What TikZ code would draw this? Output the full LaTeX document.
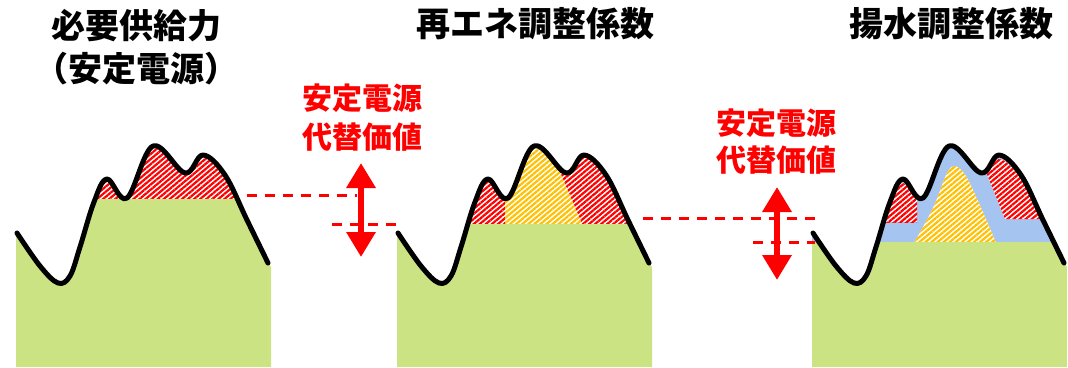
\documentclass[tikz,border=0pt]{standalone}
\usepackage{fontspec}
\newfontfamily\jp{Noto Sans CJK JP}
\usetikzlibrary{patterns.meta,arrows.meta}
\definecolor{grn}{RGB}{204,227,131}
\definecolor{blu}{RGB}{166,196,240}
\definecolor{yel}{RGB}{255,192,0}
\definecolor{rd}{RGB}{255,0,0}
\begin{document}
\begin{tikzpicture}[x=1pt,y=-1pt,
  curveline/.style={line width=5pt,line cap=round,line join=round,black},
  hatchred/.style={pattern={Lines[angle=40,distance=3.9pt,line width=2.2pt]},pattern color=rd},
  hatchyel/.style={pattern={Lines[angle=40,distance=3.9pt,line width=2.2pt]},pattern color=yel},
  reddash/.style={rd,line width=3pt,dash pattern=on 10pt off 8pt},
  bigarrow/.style={rd,line width=6.5pt,{Triangle[length=25pt,width=28pt]}-{Triangle[length=25pt,width=28pt]}},
  title/.style={font=\jp\bfseries\fontsize{34}{40}\selectfont,anchor=base,inner sep=0pt},
  redtxt/.style={font=\jp\bfseries\fontsize{30}{36}\selectfont,text=rd,anchor=base,inner sep=0pt}]
\useasboundingbox (0,0) rectangle (1068,367);
\def\curvepath{plot[smooth,tension=0.6] coordinates{(17,233) (40,266) (58,283) (70,276) (80,247) (94,202) (107,179) (127,198) (153,146) (185,173) (203,155) (225,175) (247,220) (268,263)}}
\def\under{\curvepath -- (271,267) -- (271,367) -- (16,367) -- (16,236) -- cycle}

% ---------- panel 1 ----------
\begin{scope}
  \begin{scope}
    \clip (0,0) rectangle (300,199);
    \fill[hatchred] \under;
  \end{scope}
  \begin{scope}
    \clip (0,199) rectangle (300,367);
    \fill[grn] \under;
  \end{scope}
  \draw[curveline] \curvepath;
\end{scope}

% ---------- panel 2 ----------
\begin{scope}[shift={(381,0)}]
  \begin{scope}
    \clip (0,0) rectangle (300,224);
    \fill[hatchred] \under;
    \clip (124,230) -- (124,100) -- (148,100) -- (201,224) -- cycle;
    \fill[white] \under;
    \fill[hatchyel] \under;
  \end{scope}
  \begin{scope}
    \clip (0,224) rectangle (300,367);
    \fill[grn] \under;
  \end{scope}
  \draw[curveline] \curvepath;
\end{scope}

% ---------- panel 3 ----------
\begin{scope}[shift={(796,0)}]
  \begin{scope}
    \clip (0,0) rectangle (300,242);
    \fill[blu] \under;
  \end{scope}
  \begin{scope}
    \clip (84,0) rectangle (121,222);
    \clip[shift={(0,4)}] \under;
    \fill[white] (84,0) rectangle (121,222);
    \fill[hatchred] (84,0) rectangle (121,222);
  \end{scope}
  \begin{scope}
    \clip (161,100) -- (209,219) -- (280,219) -- (280,100) -- cycle;
    \clip[shift={(0,4)}] \under;
    \fill[white] (150,100) rectangle (280,219);
    \fill[hatchred] (150,100) rectangle (280,219);
  \end{scope}
  \fill[white] plot[smooth,tension=0.5] coordinates{(118,243) (137,208) (151,173) (159,166) (170,176) (186,210) (201,245)} -- cycle;
  \fill[hatchyel] plot[smooth,tension=0.5] coordinates{(118,243) (137,208) (151,173) (159,166) (170,176) (186,210) (201,245)} -- cycle;
  \begin{scope}
    \clip (0,242) rectangle (300,367);
    \fill[grn] \under;
  \end{scope}
  \draw[curveline] \curvepath;
\end{scope}

% ---------- dashed levels ----------
\coordinate (d1a) at (247,195); \coordinate (d1b) at (357,195);
\coordinate (d2a) at (332,224); \coordinate (d2b) at (398,224);
\coordinate (d3a) at (643,218); \coordinate (d3b) at (815,218);
\coordinate (d4a) at (753,242); \coordinate (d4b) at (815,242);
\draw[reddash] (d1a) -- (d1b);
\draw[reddash] (d2a) -- (d2b);
\draw[reddash] (d3a) -- (d3b);
\draw[reddash] (d4a) -- (d4b);

% ---------- arrows ----------
\coordinate (a1t) at (361,163); \coordinate (a1b) at (361,257);
\coordinate (a2t) at (777,187); \coordinate (a2b) at (777,280);
\draw[bigarrow] (a1t) -- (a1b);
\draw[bigarrow] (a2t) -- (a2b);

% ---------- texts ----------
\node[title] (t1a) at (136,38) {必要供給力};
\node[title] (t1b) at (136,81) {（安定電源）};
\node[title] (t2) at (535,36) {再エネ調整係数};
\node[title] (t3) at (951,36) {揚水調整係数};
\node[redtxt] (r1a) at (362,109.5) {安定電源};
\node[redtxt] (r1b) at (362,148.5) {代替価値};
\node[redtxt] (r2a) at (776,134.5) {安定電源};
\node[redtxt] (r2b) at (776,171.5) {代替価値};
\end{tikzpicture}
\end{document}
